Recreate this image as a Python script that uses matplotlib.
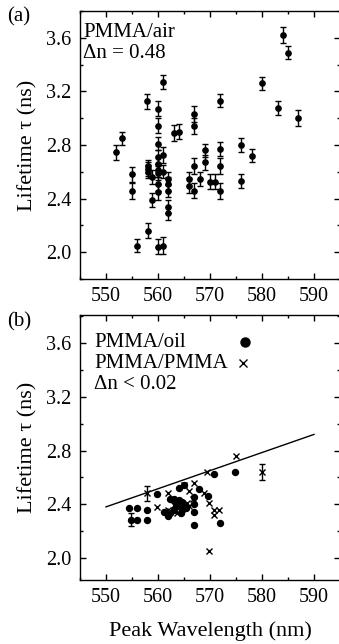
import matplotlib
matplotlib.use("Agg")
import matplotlib.pyplot as plt
from matplotlib.ticker import MultipleLocator

plt.rcParams["font.family"] = ["Liberation Serif", "DejaVu Serif"]
plt.rcParams["font.size"] = 15

# (a) PMMA/air
air_x = [551.9, 553.0, 555.0, 555.0, 556.0, 557.9, 558.0, 558.0, 558.0, 558.0,
         558.9, 558.9, 560.0, 560.0, 560.0, 560.0, 560.0, 560.0, 560.0, 560.0,
         560.0, 560.0, 561.0, 561.0, 561.0, 561.0, 562.0, 562.0, 562.0, 562.0,
         562.0, 563.0, 564.0, 566.0, 566.0, 567.0, 567.0, 567.0, 567.0, 568.0,
         569.0, 569.0, 570.0, 571.0, 572.0, 572.0, 572.0, 572.0, 576.0, 576.0,
         578.0, 580.0, 583.0, 584.0, 585.0, 587.0]
air_y = [2.745, 2.85, 2.58, 2.46, 2.05, 3.125, 2.64, 2.62, 2.60, 2.16,
         2.39, 2.56, 3.07, 2.945, 2.81, 2.71, 2.66, 2.61, 2.59, 2.51,
         2.45, 2.04, 3.27, 2.725, 2.60, 2.05, 2.55, 2.51, 2.46, 2.34,
         2.29, 2.89, 2.90, 2.545, 2.495, 3.03, 2.94, 2.645, 2.46, 2.545,
         2.76, 2.67, 2.525, 2.525, 3.13, 2.77, 2.645, 2.46, 2.80, 2.53,
         2.72, 3.26, 3.075, 3.62, 3.49, 3.00]
air_err = [0.055, 0.05, 0.055, 0.06, 0.05, 0.055, 0.05, 0.05, 0.05, 0.055,
           0.05, 0.05, 0.055, 0.055, 0.05, 0.05, 0.05, 0.05, 0.05, 0.05,
           0.06, 0.055, 0.055, 0.06, 0.05, 0.06, 0.05, 0.05, 0.05, 0.05,
           0.05, 0.06, 0.055, 0.05, 0.055, 0.06, 0.06, 0.06, 0.055, 0.05,
           0.05, 0.055, 0.055, 0.055, 0.05, 0.055, 0.06, 0.06, 0.055, 0.05,
           0.05, 0.05, 0.05, 0.06, 0.05, 0.06]

# (b) PMMA/oil (dots)
oil_x = [554.5, 556.0, 554.9, 556.0, 557.9, 557.9, 559.9, 561.2, 561.9, 562.3,
         563.1, 564.0, 564.7, 565.0, 563.7, 564.7, 565.3, 564.35, 563.1, 562.4,
         564.0, 565.0, 567.8, 569.6, 570.8, 574.8, 566.9, 566.9, 566.9, 566.9,
         572.0, 563.4]
oil_y = [2.375, 2.375, 2.284, 2.284, 2.36, 2.28, 2.475, 2.34, 2.31, 2.44,
         2.438, 2.433, 2.42, 2.395, 2.383, 2.358, 2.371, 2.333, 2.358, 2.333,
         2.52, 2.54, 2.51, 2.46, 2.627, 2.637, 2.45, 2.40, 2.345, 2.246,
         2.263, 2.41]

# (b) PMMA/PMMA (crosses)
pp_x = [557.9, 559.9, 561.9, 563.1, 562.4, 563.7, 565.5, 565.9, 566.8, 565.0,
        565.9, 566.9, 568.8, 569.4, 569.9, 570.7, 571.7, 570.8, 569.9, 575.0,
        580.0, 562.0]
pp_y = [2.48, 2.376, 2.48, 2.395, 2.346, 2.333, 2.408, 2.383, 2.438, 2.545,
        2.495, 2.56, 2.48, 2.64, 2.41, 2.36, 2.36, 2.32, 2.05, 2.757,
        2.64, 2.36]

# error bars shown in (b)
eb_x = [554.9, 557.9, 580.0]
eb_y = [2.284, 2.48, 2.64]
eb_err = [0.05, 0.055, 0.062]

# fitted line in (b)
line_x = [550, 590]
line_y = [2.38, 2.92]

fig = plt.figure(figsize=(3.39, 6.44), dpi=100)
W, H = 339, 644
ax1 = fig.add_axes([80 / W, 1 - 279 / H, 260 / W, 268 / H])
ax2 = fig.add_axes([80 / W, 1 - 580 / H, 260 / W, 265 / H])


def style(ax, ylim):
    ax.set_xlim(545, 595)
    ax.set_ylim(*ylim)
    ax.xaxis.set_major_locator(MultipleLocator(10))
    ax.xaxis.set_minor_locator(MultipleLocator(5))
    ax.yaxis.set_major_locator(MultipleLocator(0.4))
    ax.yaxis.set_minor_locator(MultipleLocator(0.2))
    ax.tick_params(which="both", direction="in", top=True, right=True, width=1,
                   labelsize=14.5)
    ax.tick_params(which="major", length=4.5)
    ax.tick_params(which="minor", length=2.5)
    ax.tick_params(axis="x", pad=6)
    ax.tick_params(axis="y", pad=6)
    ax.yaxis.set_major_formatter(plt.FormatStrFormatter("%.1f"))
    for s in ax.spines.values():
        s.set_linewidth(1)
    ax.set_ylabel("Lifetime τ (ns)", fontsize=16)
    ax.yaxis.set_label_coords(-0.165, 0.5)


style(ax1, (1.8, 3.8))
style(ax2, (1.835, 3.81))

ax1.errorbar(air_x, air_y, yerr=air_err, fmt="o", color="black", ms=3.8,
             elinewidth=1, capsize=2, capthick=1)
ax1.text(0.012, 0.92, "PMMA/air", transform=ax1.transAxes, va="center")
ax1.text(0.012, 0.843, "Δn = 0.48", transform=ax1.transAxes, va="center")

ax2.plot(line_x, line_y, color="black", lw=1)
ax2.errorbar(eb_x, eb_y, yerr=eb_err, fmt="none", ecolor="black",
             elinewidth=1, capsize=2, capthick=1)
ax2.plot(oil_x, oil_y, "o", color="black", ms=4.3)
ax2.plot(pp_x, pp_y, "x", color="black", ms=4.8, mew=1)

ax2.text(0.055, 0.898, "PMMA/oil", transform=ax2.transAxes, va="center")
ax2.text(0.055, 0.817, "PMMA/PMMA", transform=ax2.transAxes, va="center")
ax2.text(0.055, 0.736, "Δn < 0.02", transform=ax2.transAxes, va="center")
ax2.plot([0.635], [0.898], "o", color="black", ms=6.5, transform=ax2.transAxes)
ax2.plot([0.627], [0.817], "x", color="black", ms=5.5, mew=1, transform=ax2.transAxes)

ax2.set_xlabel("Peak Wavelength (nm)", fontsize=16)
ax2.xaxis.set_label_coords(0.5, -0.155)

fig.text(0.02, 1 - 17 / H, "(a)", va="center", ha="left", fontsize=15)
fig.text(0.02, 1 - 322 / H, "(b)", va="center", ha="left", fontsize=15)

plt.savefig("out.png", dpi=100)
